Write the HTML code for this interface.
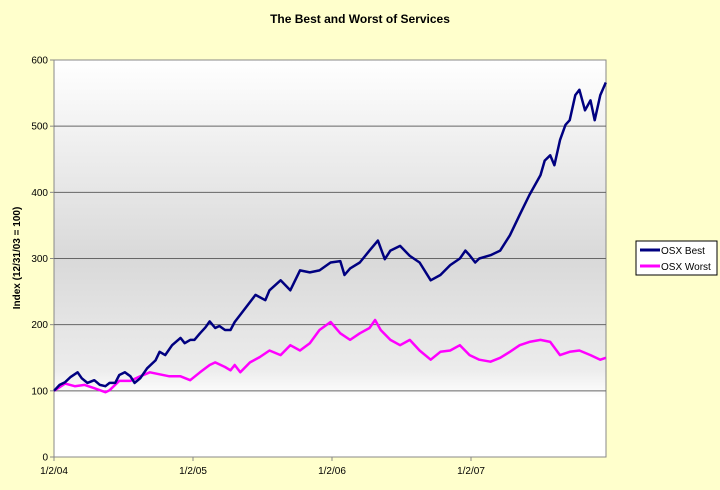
<!DOCTYPE html>
<html><head><meta charset="utf-8"><style>
html,body{margin:0;padding:0;background:#FFFFCC;}
svg{display:block;font-family:"Liberation Sans",Arial,sans-serif;}
</style></head><body>
<svg id="chart" width="720" height="490">
<defs>
<linearGradient id="bg" x1="0" y1="0" x2="0" y2="1">
<stop offset="0" stop-color="#ffffff"/>
<stop offset="0.12" stop-color="#f6f6f6"/>
<stop offset="0.5" stop-color="#d9d9d9"/>
<stop offset="0.78" stop-color="#ececec"/>
<stop offset="0.85" stop-color="#ffffff"/>
<stop offset="1" stop-color="#ffffff"/>
</linearGradient>
</defs>
<rect x="0" y="0" width="720" height="490" fill="#FFFFCC"/>
<text x="360" y="23" text-anchor="middle" font-size="12" font-weight="bold">The Best and Worst of Services</text>
<rect x="54" y="60" width="552" height="397" fill="url(#bg)" stroke="#888" stroke-width="1"/>
<g id="grid"></g>
<g id="yticks"></g>
<g id="xticks"></g>
<text transform="translate(20,258) rotate(-90)" text-anchor="middle" font-size="10" font-weight="bold">Index (12/31/03 = 100)</text>
<g id="series"></g>
<g>
<rect x="636" y="241" width="81" height="34" fill="#fff" stroke="#000" stroke-width="1"/>
<g>
<line x1="640" y1="250" x2="660" y2="250" stroke="#000080" stroke-width="3"/>
<text x="661" y="254" font-size="10" fill="#000">OSX Best</text>
</g>
<g>
<line x1="640" y1="266" x2="660" y2="266" stroke="#FF00FF" stroke-width="3"/>
<text x="661" y="270" font-size="10" fill="#000">OSX Worst</text>
</g>
</g>
</svg>
<script>
const yTicks=[0,100,200,300,400,500,600];
const xTickLabels=["1/2/04","1/2/05","1/2/06","1/2/07"];
const xTickYears=[0,1,2,3];
const bestT=[0,.04,.08,.12,.17,.20,.24,.29,.33,.37,.40,.44,.47,.51,.55,.58,.62,.67,.73,.76,.80,.85,.91,.94,.98,1.01,1.05,1.09,1.12,1.16,1.19,1.23,1.27,1.30,1.34,1.45,1.52,1.55,1.63,1.70,1.77,1.84,1.91,1.99,2.06,2.09,2.13,2.20,2.27,2.33,2.38,2.42,2.49,2.56,2.63,2.71,2.78,2.85,2.92,2.96,2.99,3.03,3.06,3.14,3.21,3.28,3.35,3.42,3.50,3.53,3.57,3.60,3.64,3.68,3.71,3.75,3.78,3.82,3.86,3.89,3.93,3.97];
const bestV=[100,109,113,121,128,119,112,116,109,107,112,112,124,128,122,112,119,134,146,159,154,169,180,172,177,177,187,196,205,195,198,192,192,204,215,245,237,252,267,252,282,279,282,294,296,275,285,294,312,327,299,312,319,304,294,267,275,290,300,312,305,294,300,305,312,335,366,396,426,448,456,441,479,502,509,547,555,524,539,509,547,566];
const worstT=[0,.08,.15,.22,.29,.37,.40,.47,.55,.62,.69,.76,.83,.91,.98,1.05,1.12,1.16,1.23,1.27,1.30,1.34,1.41,1.48,1.55,1.63,1.70,1.77,1.84,1.91,1.99,2.06,2.13,2.20,2.27,2.31,2.35,2.42,2.49,2.56,2.63,2.71,2.78,2.85,2.92,2.99,3.06,3.14,3.21,3.28,3.35,3.42,3.50,3.57,3.64,3.71,3.78,3.86,3.93,3.97];
const worstV=[100,111,107,109,104,98,101,115,115,122,128,125,122,122,116,128,139,143,136,131,139,128,143,151,161,154,169,161,172,192,204,187,177,187,195,207,192,177,169,177,161,147,159,161,169,154,147,144,150,159,169,174,177,174,154,159,161,154,147,150];
const X0=54,YR=139,Y0=457,YS=397/600;
const xs=t=>X0+t*YR, ys=v=>Y0-v*YS;
const NS="http://www.w3.org/2000/svg";
function mk(tag,attrs,parent){const e=document.createElementNS(NS,tag);for(const k in attrs)e.setAttribute(k,attrs[k]);parent.appendChild(e);return e;}
const grid=document.getElementById('grid'),yt=document.getElementById('yticks'),xt=document.getElementById('xticks'),ser=document.getElementById('series');
yTicks.forEach(v=>{
 if(v>0&&v<600){const g=mk('line',{x1:X0,x2:606,y1:ys(v),y2:ys(v),stroke:'#666','stroke-width':1},grid);
 
 }
 const tk=mk('line',{x1:X0-4,x2:X0,y1:ys(v),y2:ys(v),stroke:'#888'},yt);
 
 
 const tx=mk('text',{x:X0-6,y:ys(v)+3.5,'text-anchor':'end','font-size':10,fill:'#000'},yt);
 tx.textContent=v;
 
 
});
xTickYears.forEach((t,i)=>{
 const tk=mk('line',{x1:xs(t),x2:xs(t),y1:Y0,y2:Y0+4,stroke:'#888'},xt);
 
 
 const tx=mk('text',{x:xs(t),y:Y0+17,'text-anchor':'middle','font-size':10,fill:'#000'},xt);
 tx.textContent=xTickLabels[i];
 
 
});
function line(T,V,color,name){
 const d=T.map((t,i)=>(i?'L':'M')+xs(t).toFixed(1)+' '+ys(V[i]).toFixed(1)).join(' ');
 const p=mk('path',{d:d,fill:'none',stroke:color,'stroke-width':2.5,'stroke-linejoin':'round'},ser);
 
 
}
line(worstT,worstV,'#FF00FF','series-osx-worst');
line(bestT,bestV,'#000080','series-osx-best');
</script>
</body></html>
